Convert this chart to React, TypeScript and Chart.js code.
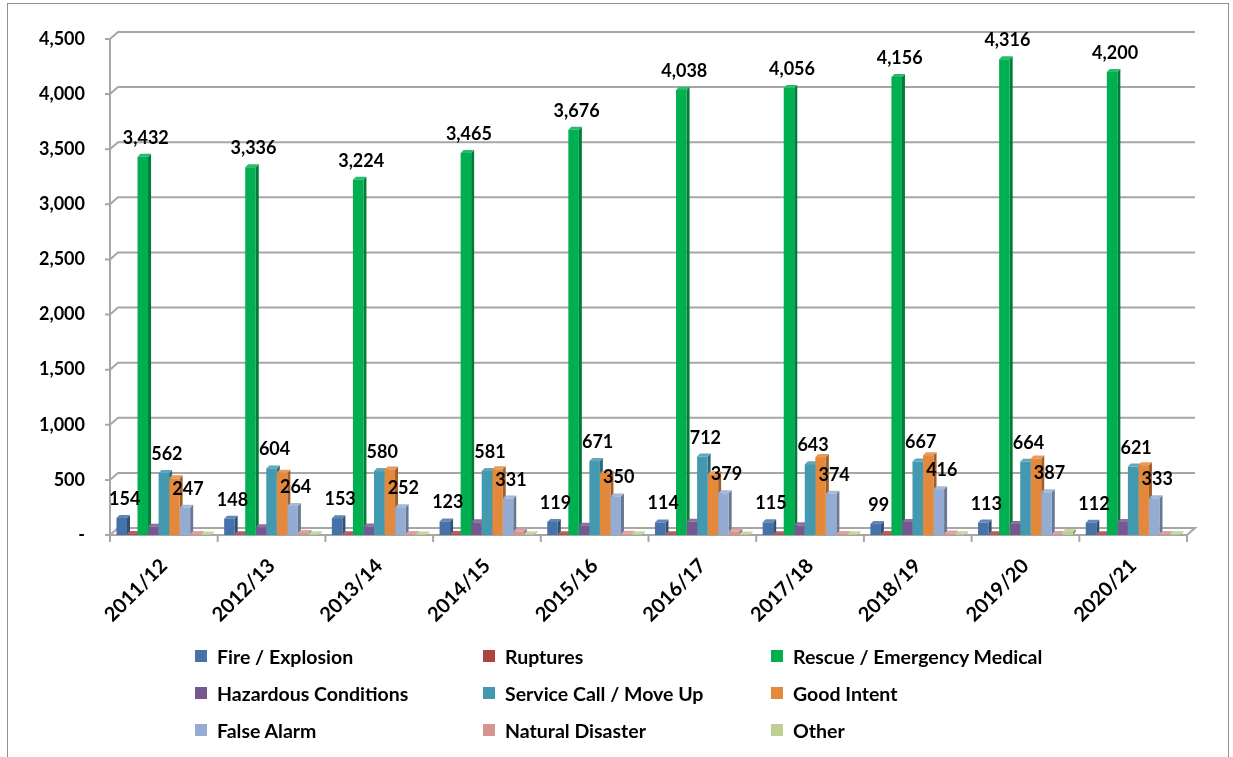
import React, { useEffect, useRef } from "react";
import { Chart, registerables } from "chart.js";

Chart.register(...registerables);

// ---------- data ----------
const categories = ["2011/12", "2012/13", "2013/14", "2014/15", "2015/16", "2016/17", "2017/18", "2018/19", "2019/20", "2020/21"];

const fireExplosion = [154, 148, 153, 123, 119, 114, 115, 99, 113, 112];
const ruptures = [8, 6, 7, 8, 7, 6, 7, 8, 7, 6];
const rescueEmergencyMedical = [3432, 3336, 3224, 3465, 3676, 4038, 4056, 4156, 4316, 4200];
const hazardousConditions = [75, 70, 78, 115, 85, 120, 88, 118, 100, 118];
const serviceCallMoveUp = [562, 604, 580, 581, 671, 712, 643, 667, 664, 621];
const goodIntent = [514, 565, 595, 596, 559, 552, 707, 724, 694, 633];
const falseAlarm = [247, 264, 252, 331, 350, 379, 374, 416, 387, 333];
const naturalDisaster = [10, 18, 10, 30, 12, 30, 10, 14, 8, 8];
const other = [5, 6, 5, 6, 6, 5, 6, 6, 28, 6];

const seriesNames = [
  "Fire / Explosion",
  "Ruptures",
  "Rescue / Emergency Medical",
  "Hazardous Conditions",
  "Service Call / Move Up",
  "Good Intent",
  "False Alarm",
  "Natural Disaster",
  "Other",
];
const seriesValues = [
  fireExplosion,
  ruptures,
  rescueEmergencyMedical,
  hazardousConditions,
  serviceCallMoveUp,
  goodIntent,
  falseAlarm,
  naturalDisaster,
  other,
];
const labelledSeries = ["Fire / Explosion", "Rescue / Emergency Medical", "Service Call / Move Up", "False Alarm"];

const yMax = 4500;
const yStep = 500;

// ---------- styles ----------
const seriesColors = ["#4672AA", "#AA4442", "#00B050", "#73598F", "#4399B0", "#E4883C", "#94ABD2", "#D69391", "#BCD191"];
const FONT = "Lato, 'Open Sans', sans-serif";
const gridColor = "#a6a6a6";

function shade(hex: string, f: number): string {
  const n = parseInt(hex.slice(1), 16);
  let r = (n >> 16) & 255, g = (n >> 8) & 255, b = n & 255;
  if (f < 0) {
    r = Math.round(r * (1 + f)); g = Math.round(g * (1 + f)); b = Math.round(b * (1 + f));
  } else {
    r = Math.round(r + (255 - r) * f); g = Math.round(g + (255 - g) * f); b = Math.round(b + (255 - b) * f);
  }
  return `rgb(${r},${g},${b})`;
}

const fmt = (v: number) => (v === 0 ? "-" : v.toLocaleString("en-US"));

const WALL_DX = 8;
const WALL_DY = 7;
const BAR_DEPTH = 3;

const threeDPlugin = {
  id: "threeD",
  beforeDatasetsDraw(chart: any) {
    const ctx = chart.ctx as CanvasRenderingContext2D;
    const xs = chart.scales.x;
    const ys = chart.scales.y;
    const area = chart.chartArea;
    ctx.save();
    ctx.strokeStyle = gridColor;
    ctx.lineWidth = 2;
    // back wall grid lines
    for (let v = yStep; v <= yMax; v += yStep) {
      const py = ys.getPixelForValue(v);
      ctx.beginPath();
      ctx.moveTo(area.left - 5, py);
      ctx.lineTo(area.left, py);
      ctx.lineTo(area.left + WALL_DX, py - WALL_DY);
      ctx.lineTo(area.right + WALL_DX, py - WALL_DY);
      ctx.stroke();
    }
    // left wall edge
    const p0 = ys.getPixelForValue(0);
    ctx.beginPath();
    ctx.moveTo(area.left, ys.getPixelForValue(yMax));
    ctx.lineTo(area.left, p0);
    ctx.stroke();
    // floor
    ctx.beginPath();
    ctx.moveTo(area.left - 5, p0);
    ctx.lineTo(area.right, p0);
    ctx.lineTo(area.right + WALL_DX, p0 - WALL_DY);
    ctx.lineTo(area.left + WALL_DX, p0 - WALL_DY);
    ctx.lineTo(area.left, p0);
    ctx.stroke();
    // category ticks
    for (let i = 0; i <= categories.length; i++) {
      const px = xs.getPixelForValue(i - 0.5);
      ctx.beginPath();
      ctx.moveTo(px, p0);
      ctx.lineTo(px, p0 + 7);
      ctx.stroke();
    }
    // side and top faces of bars
    const d = BAR_DEPTH;
    for (let i = 0; i < categories.length; i++) {
      for (let s = 0; s < seriesValues.length; s++) {
        const el: any = chart.getDatasetMeta(s).data[i];
        if (!el) continue;
        const { x, y, base, width } = el.getProps(["x", "y", "base", "width"], true);
        const l = x - width / 2;
        const r = x + width / 2;
        const c = seriesColors[s];
        ctx.fillStyle = shade(c, -0.3);
        ctx.beginPath();
        ctx.moveTo(r, y);
        ctx.lineTo(r + d, y - d);
        ctx.lineTo(r + d, base - d);
        ctx.lineTo(r, base);
        ctx.closePath();
        ctx.fill();
        ctx.fillStyle = shade(c, 0.15);
        ctx.beginPath();
        ctx.moveTo(l, y);
        ctx.lineTo(l + d, y - d);
        ctx.lineTo(r + d, y - d);
        ctx.lineTo(r, y);
        ctx.closePath();
        ctx.fill();
      }
    }
    ctx.restore();
  },
  afterDatasetsDraw(chart: any) {
    const ctx = chart.ctx as CanvasRenderingContext2D;
    ctx.save();
    ctx.font = `bold 18px ${FONT}`;
    ctx.fillStyle = "#000";
    ctx.textAlign = "center";
    ctx.textBaseline = "alphabetic";
    seriesNames.forEach((name, s) => {
      if (!labelledSeries.includes(name)) return;
      const meta = chart.getDatasetMeta(s);
      meta.data.forEach((el: any, i: number) => {
        ctx.fillText(fmt(seriesValues[s][i]), el.x + 3, el.y - 13);
      });
    });
    ctx.restore();
  },
};

export default function App() {
  const ref = useRef<HTMLCanvasElement | null>(null);

  useEffect(() => {
    if (!ref.current) return;
    const chart = new Chart(ref.current, {
      type: "bar",
      data: {
        labels: categories,
        datasets: seriesNames.map((name, s) => ({
          label: name,
          data: seriesValues[s],
          backgroundColor: seriesColors[s],
          borderWidth: 0,
          categoryPercentage: 0.88,
          barPercentage: 1,
        })),
      },
      options: {
        animation: false,
        responsive: false,
        devicePixelRatio: 1,
        layout: { padding: { left: 8, right: 46, top: 39, bottom: 0 } },
        plugins: { legend: { display: false }, tooltip: { enabled: false } },
        scales: {
          x: {
            grid: { display: false, drawTicks: false },
            border: { display: false },
            ticks: {
              color: "#000",
              font: { family: FONT, size: 20, weight: "bold" },
              minRotation: 45,
              maxRotation: 45,
              padding: 19,
            },
            afterFit: (s: any) => {
              s.height = 222;
            },
          },
          y: {
            min: 0,
            max: yMax,
            grid: { display: false, drawTicks: false },
            border: { display: false },
            ticks: {
              stepSize: yStep,
              color: "#000",
              font: { family: FONT, size: 18, weight: "bold" },
              padding: 25,
              callback: (v: any) => fmt(Number(v)),
            },
            afterFit: (s: any) => {
              s.width = 102;
            },
          },
        },
      } as any,
      plugins: [threeDPlugin],
    });
    return () => chart.destroy();
  }, []);

  const colX = [195, 483, 771];
  const rowY = [656, 693, 730];

  return (
    <div style={{ position: "absolute", left: 0, top: 0, width: 1233, height: 757, background: "#fff", overflow: "hidden" }}>
      <div
        style={{
          position: "absolute",
          left: 7,
          top: 3,
          width: 1222,
          height: 780,
          border: "1.5px solid #8f8f8f",
          boxSizing: "border-box",
        }}
      />
      <canvas ref={ref} width={1233} height={757} style={{ position: "absolute", left: 0, top: 0 }} />
      {seriesNames.map((name, s) => {
        const col = s % 3;
        const row = Math.floor(s / 3);
        return (
          <div
            key={name}
            style={{
              position: "absolute",
              left: colX[col],
              top: rowY[row] - 12,
              height: 24,
              display: "flex",
              alignItems: "center",
              fontFamily: FONT,
              fontWeight: "bold",
              fontSize: 19.5,
              color: "#000",
              whiteSpace: "nowrap",
            }}
          >
            <span style={{ display: "inline-block", width: 12, height: 12, background: seriesColors[s], marginRight: 10 }} />
            <span>{name}</span>
          </div>
        );
      })}
    </div>
  );
}
